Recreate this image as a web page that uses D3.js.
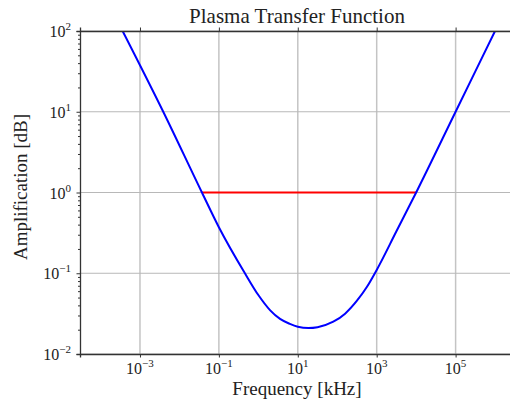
<!DOCTYPE html>
<html>
<head>
<meta charset="utf-8">
<script src="https://cdn.jsdelivr.net/npm/d3@7"></script>
</head>
<body style="margin:0; background:#fff">
<svg id="chart"></svg>
<script>
// Values
const freq = [3.63e-4, 3.89e-3, 0.0372, 0.1, 0.457, 1, 2, 3.55, 6.31, 10, 18.6, 31.6, 79.4, 158, 316, 562, 1000, 3162, 1e4, 1e5, 1e6];
const amp  = [100, 10, 1, 0.372, 0.1, 0.0537, 0.0347, 0.0272, 0.0236, 0.0218, 0.0210, 0.0215, 0.0251, 0.0316, 0.0457, 0.0676, 0.110, 0.331, 1, 10, 100];

// red band (amplification = 1)
const bandFreq = [0.0372, 1e4];
const bandAmp = [1, 1];

const xTickVals = [1e-3, 1e-1, 1e1, 1e3, 1e5];
const xTickExp = ["\u22123", "\u22121", "1", "3", "5"];
const yTickVals = [1e-2, 1e-1, 1e0, 1e1, 1e2];
const yTickExp = ["\u22122", "\u22121", "0", "1", "2"];

const width = 510, height = 400;
const margin = { top: 31, right: -4, bottom: 46, left: 80 };
const serif = 'Liberation Serif';

const svg = d3.select('#chart')
    .attr('width', width)
    .attr('height', height);

const x = d3.scaleLog()
    .domain([Math.pow(10, -4.52), Math.pow(10, 6.48)])
    .range([margin.left, width - margin.right]);
const y = d3.scaleLog()
    .domain([1e-2, 1e2])
    .range([height - margin.bottom, margin.top]);

const x0 = margin.left, x1 = width - margin.right;
const y0 = height - margin.bottom, y1 = margin.top;

//Title and labels first
svg.append('text')
    .attr('font-family', serif)
    .attr('font-size', 21)
    .attr('x', 297).attr('y', 23)
    .attr('text-anchor', 'middle')
    .attr('fill', '#222')
    .text('Plasma Transfer Function');

svg.append('text')
    .attr('font-family', serif)
    .attr('font-size', 19)
    .attr('x', 297).attr('y', 395)
    .attr('text-anchor', 'middle')
    .attr('fill', '#222')
    .text('Frequency [kHz]');

svg.append('text')
    .attr('font-family', serif)
    .attr('font-size', 19)
    .attr('transform', 'translate(27,187) rotate(-90)')
    .attr('text-anchor', 'middle')
    .attr('fill', '#222')
    .text('Amplification [dB]');

// clip
svg.append('clipPath').attr('id', 'clip')
    .append('rect')
    .attr('x', x0).attr('y', y1)
    .attr('width', x1 - x0).attr('height', y0 - y1);

//Grid
svg.append('g')
    .selectAll('line')
    .data(xTickVals)
    .enter().append('line')
    .attr('x1', d => x(d)).attr('x2', d => x(d))
    .attr('y1', y0).attr('y2', y1)
    .style('stroke', '#c4c4c4')
    .style('stroke-width', 1.5);

svg.append('g')
    .selectAll('line')
    .data(yTickVals)
    .enter().append('line')
    .attr('x1', x0).attr('x2', x1)
    .attr('y1', d => y(d)).attr('y2', d => y(d))
    .style('stroke', '#b8b8b8')
    .style('stroke-width', 1);

//Curves
const pts = freq.map((f, i) => [f, amp[i]]);
const line = d3.line()
    .x(d => x(d[0]))
    .y(d => y(d[1]))
    .curve(d3.curveMonotoneX);

svg.append('path')
    .datum(bandFreq.map((f, i) => [f, bandAmp[i]]))
    .attr('d', d3.line().x(d => x(d[0])).y(d => y(d[1])))
    .attr('clip-path', 'url(#clip)')
    .style('fill', 'none')
    .style('stroke', '#ff0000')
    .style('stroke-width', 2);

svg.append('path')
    .datum(pts)
    .attr('d', line)
    .attr('clip-path', 'url(#clip)')
    .style('fill', 'none')
    .style('stroke', '#0000ff')
    .style('stroke-width', 2);

//Axes (no generated labels)
const xAxis = d3.axisBottom(x).tickValues(xTickVals).tickSize(3.5).tickFormat('');
const xAxisTop = d3.axisTop(x).tickValues(xTickVals).tickSize(3.5).tickFormat('');
const minorY = [];
for (let e = -2; e < 2; e++) for (let m = 2; m <= 9; m++) minorY.push(m * Math.pow(10, e));
const yAxis = d3.axisLeft(y).tickValues(yTickVals).tickSize(3.5).tickFormat('');
const yAxisMinor = d3.axisLeft(y).tickValues(minorY).tickSize(2).tickFormat('');

const gx = svg.append('g').attr('transform', `translate(0,${y0})`).call(xAxis);
const gxt = svg.append('g').attr('transform', `translate(0,${y1})`).call(xAxisTop);
const gy = svg.append('g').attr('transform', `translate(${x0},0)`).call(yAxis);
const gym = svg.append('g').attr('transform', `translate(${x0},0)`).call(yAxisMinor);
gym.select('.domain').remove();

[gx, gxt, gy, gym].forEach(g => {
    g.attr('font-family', null).attr('font-size', null);
    g.selectAll('.tick text').remove();
    g.selectAll('.domain').style('stroke', '#333').style('stroke-width', 1.3);
    g.selectAll('.tick line').style('stroke', '#333').style('stroke-width', 1);
});

//Tick labels
const xl = svg.append('g').selectAll('text')
    .data(xTickVals)
    .enter().append('text')
    .attr('font-family', serif)
    .attr('font-size', 16)
    .attr('x', d => x(d))
    .attr('y', 374)
    .attr('text-anchor', 'middle')
    .attr('fill', '#222');
xl.append('tspan').text('10');
xl.append('tspan').attr('dy', -7).attr('font-size', 11).text((d, i) => xTickExp[i]);

const yl = svg.append('g').selectAll('text')
    .data(yTickVals)
    .enter().append('text')
    .attr('font-family', serif)
    .attr('font-size', 16)
    .attr('x', 71)
    .attr('y', d => y(d) + 6)
    .attr('text-anchor', 'end')
    .attr('fill', '#222');
yl.append('tspan').text('10');
yl.append('tspan').attr('dy', -7).attr('font-size', 11).text((d, i) => yTickExp[i]);
</script>
</body>
</html>
